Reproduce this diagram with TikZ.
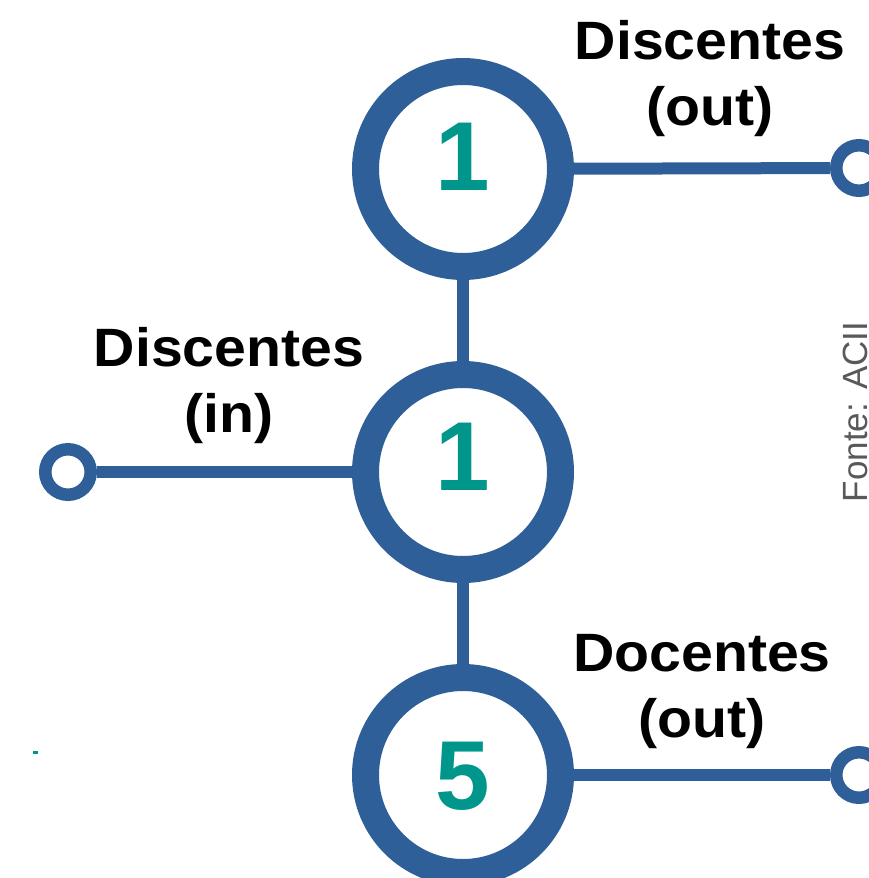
\documentclass[tikz,border=0pt]{standalone}
\usepackage{fontspec}
\setmainfont{Liberation Sans}
\newfontfamily\labelfont[FakeStretch=1.06]{Liberation Sans}
\usetikzlibrary{positioning}
\definecolor{ringblue}{RGB}{47,95,152}
\definecolor{numteal}{RGB}{0,150,140}
\definecolor{srcgray}{RGB}{89,89,89}

\begin{document}
\begin{tikzpicture}[x=1pt,y=-1pt,
  ring/.style={circle,draw=ringblue,fill=white,line width=27pt,minimum size=195pt,inner sep=0pt},
  port/.style={circle,draw=ringblue,fill=white,line width=12.5pt,minimum size=45.5pt,inner sep=0pt},
  wire/.style={draw=ringblue,line width=12pt},
  num/.style={text=numteal,font=\fontsize{98}{98}\selectfont\bfseries,inner sep=0pt,anchor=base},
  lbl/.style={align=center,font=\labelfont\fontsize{54}{66}\selectfont\bfseries,inner sep=0pt,anchor=base}]
\useasboundingbox (0,0) rectangle (869,878);
\node[ring] (discout) at (463,169) {};
\node[ring] (discin) at (463,472) {};
\node[ring] (docout) at (463,775) {};
\node[port] (portdiscout) at (859,168) {};
\node[port] (portdiscin) at (68,472) {};
\node[port] (portdocout) at (859,775) {};
\draw[wire] (discout)--(discin);
\draw[wire] (discin)--(docout);
\draw[wire] (discout)--(portdiscout);
\draw[wire] (portdiscin)--(discin);
\draw[wire] (docout)--(portdocout);
\node[num] (ndiscout) at (463,190) {1};
\node[num] (ndiscin) at (463,490) {1};
\node[num] (ndocout) at (463,809) {5};
% base anchor sits on the second line
\node[lbl] (ldiscout) at (710,125) {Discentes\\(out)};
\node[lbl] (ldiscin) at (229,432) {Discentes\\(in)};
\node[lbl] (ldocout) at (702,737) {Docentes\\(out)};
\node[text=srcgray,font=\fontsize{35}{35}\selectfont,rotate=90,anchor=base,inner sep=0pt] (fonte) at (867,412) {Fonte: ACII};
\fill[numteal] (33,751) rectangle (38,754);
\end{tikzpicture}
\end{document}
